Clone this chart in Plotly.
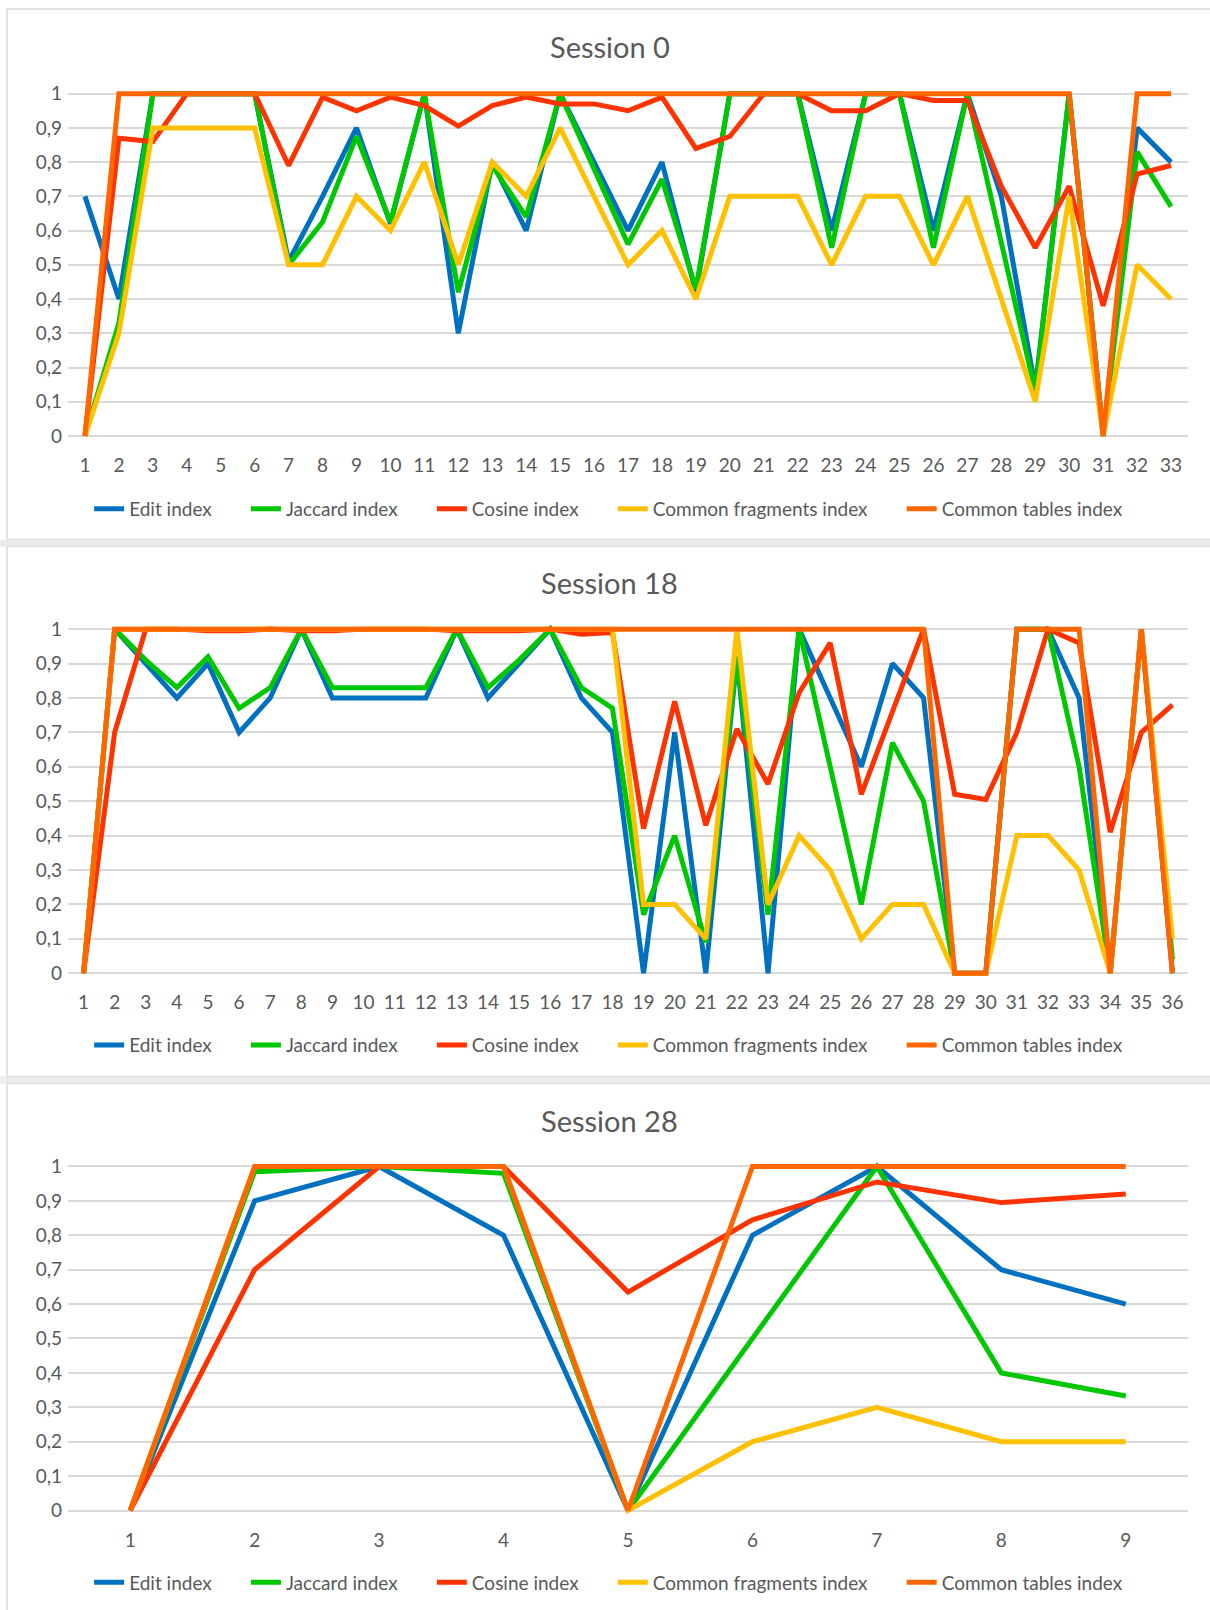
import plotly.graph_objects as go

series_names = ["Edit index", "Jaccard index", "Cosine index", "Common fragments index", "Common tables index"]
series_colors = ["#0070C0", "#00C800", "#FF3300", "#FFC000", "#FF6600"]

s0_title = "Session 0"
s0_edit = [0.7, 0.4, 1, 1, 1, 1, 0.51, 0.7, 0.9, 0.62, 1, 0.3, 0.8, 0.6, 1, 0.8, 0.6, 0.8, 0.42, 1, 1, 1, 0.6, 1, 1, 0.6, 1, 0.7, 0.14, 1, 0, 0.9, 0.8]
s0_jacc = [0, 0.33, 1, 1, 1, 1, 0.5, 0.625, 0.875, 0.625, 1, 0.42, 0.79, 0.64, 1, 0.78, 0.56, 0.75, 0.43, 1, 1, 1, 0.55, 1, 1, 0.55, 1, 0.57, 0.13, 1, 0, 0.83, 0.67]
s0_cos = [0, 0.87, 0.86, 1, 1, 1, 0.79, 0.99, 0.95, 0.99, 0.965, 0.905, 0.965, 0.99, 0.97, 0.97, 0.95, 0.99, 0.84, 0.875, 1, 1, 0.95, 0.95, 1, 0.98, 0.98, 0.73, 0.55, 0.73, 0.38, 0.765, 0.79]
s0_frag = [0, 0.3, 0.9, 0.9, 0.9, 0.9, 0.5, 0.5, 0.7, 0.6, 0.8, 0.5, 0.8, 0.7, 0.9, 0.7, 0.5, 0.6, 0.4, 0.7, 0.7, 0.7, 0.5, 0.7, 0.7, 0.5, 0.7, 0.4, 0.1, 0.7, 0, 0.5, 0.4]
s0_tabl = [0, 1, 1, 1, 1, 1, 1, 1, 1, 1, 1, 1, 1, 1, 1, 1, 1, 1, 1, 1, 1, 1, 1, 1, 1, 1, 1, 1, 1, 1, 0, 1, 1]

s18_title = "Session 18"
s18_edit = [0, 1, 0.9, 0.8, 0.9, 0.7, 0.8, 1, 0.8, 0.8, 0.8, 0.8, 1, 0.8, 0.9, 1, 0.8, 0.7, 0, 0.7, 0, 0.92, 0, 1, 0.8, 0.6, 0.9, 0.8, 0, 0, 1, 1, 0.8, 0, 1, 0]
s18_jacc = [0, 1, 0.91, 0.83, 0.92, 0.77, 0.83, 1, 0.83, 0.83, 0.83, 0.83, 1, 0.83, 0.91, 1, 0.83, 0.77, 0.17, 0.4, 0.09, 0.92, 0.17, 1, 0.6, 0.2, 0.67, 0.5, 0, 0, 1, 1, 0.6, 0, 1, 0.04]
s18_cos = [0, 0.7, 1, 1, 0.995, 0.995, 1, 0.995, 0.995, 1, 1, 1, 0.995, 0.995, 0.995, 1, 0.985, 0.99, 0.42, 0.79, 0.43, 0.71, 0.55, 0.815, 0.96, 0.52, 0.76, 1, 0.52, 0.505, 0.7, 1, 0.96, 0.41, 0.7, 0.78]
s18_frag = [0, 1, 1, 1, 1, 1, 1, 1, 1, 1, 1, 1, 1, 1, 1, 1, 1, 1, 0.2, 0.2, 0.1, 1, 0.2, 0.4, 0.3, 0.1, 0.2, 0.2, 0, 0, 0.4, 0.4, 0.3, 0, 1, 0.1]
s18_tabl = [0, 1, 1, 1, 1, 1, 1, 1, 1, 1, 1, 1, 1, 1, 1, 1, 1, 1, 1, 1, 1, 1, 1, 1, 1, 1, 1, 1, 0, 0, 1, 1, 1, 0, 1, 0]

s28_title = "Session 28"
s28_edit = [0, 0.9, 1, 0.8, 0, 0.8, 1, 0.7, 0.6]
s28_jacc = [0, 0.985, 1, 0.98, 0, 0.5, 1, 0.4, 0.333]
s28_cos = [0, 0.7, 1, 1, 0.635, 0.845, 0.955, 0.895, 0.92]
s28_frag = [0, 1, 1, 1, 0, 0.2, 0.3, 0.2, 0.2]
s28_tabl = [0, 1, 1, 1, 0, 1, 1, 1, 1]

y_tickvals = [0, 0.1, 0.2, 0.3, 0.4, 0.5, 0.6, 0.7, 0.8, 0.9, 1]
y_ticktext = ["0", "0,1", "0,2", "0,3", "0,4", "0,5", "0,6", "0,7", "0,8", "0,9", "1"]

panels = [
    (s0_title, [s0_edit, s0_jacc, s0_cos, s0_frag, s0_tabl]),
    (s18_title, [s18_edit, s18_jacc, s18_cos, s18_frag, s18_tabl]),
    (s28_title, [s28_edit, s28_jacc, s28_cos, s28_frag, s28_tabl]),
]

W, H = 1210, 1610
def py(px):
    return 1 - px / H

plot_px = [(82.3, 436.2), (622.8, 978.5), (1165.2, 1520.8)]
title_px = [38.7, 579.8, 1122.5]
legend_px = [505.6, 1046.8, 1589.3]
box_px = [(1, 536.4), (543.5, 1078.5), (1085.6, 1618)]
band_px = [(536.4, 543.5), (1078.5, 1085.6)]
x_dom = [68 / W, 1188 / W]

FONT = "Lato, Carlito, Calibri, sans-serif"
GREY = "#595959"
PAD = "\u00a0" * 6

fig = go.Figure()
layout = dict(
    width=W, height=H, margin=dict(l=0, r=0, t=0, b=0),
    paper_bgcolor="white", plot_bgcolor="white",
    font=dict(family=FONT, color=GREY, size=19),
    annotations=[], shapes=[],
)

for i, (title, data) in enumerate(panels):
    n = len(data[0])
    xs = list(range(1, n + 1))
    ax = "" if i == 0 else str(i + 1)
    leg = "legend" if i == 0 else f"legend{i + 1}"
    for k, (name, color, vals) in enumerate(zip(series_names, series_colors, data)):
        label = name + (PAD if k < len(series_names) - 1 else "")
        fig.add_trace(go.Scatter(
            x=xs, y=vals, mode="lines", name=label,
            line=dict(color=color, width=5),
            xaxis="x" + ax, yaxis="y" + ax, legend=leg,
        ))
    top, bot = plot_px[i]
    layout["xaxis" + ax] = dict(
        domain=x_dom, anchor="y" + ax, range=[0.5, n + 0.5],
        tickmode="array", tickvals=xs, ticktext=[str(v) for v in xs],
        showgrid=False, zeroline=False, showline=False, ticks="",
        tickfont=dict(size=19, color=GREY, family=FONT), ticklabelstandoff=12,
        fixedrange=True,
    )
    layout["yaxis" + ax] = dict(
        domain=[py(bot), py(top)], anchor="x" + ax, range=[-0.012, 1.012],
        tickmode="array", tickvals=y_tickvals, ticktext=y_ticktext,
        showgrid=True, gridcolor="#D9D9D9", gridwidth=1.5, zeroline=False,
        showline=False, ticks="", tickfont=dict(size=19, color=GREY, family=FONT),
        ticklabelstandoff=5, fixedrange=True,
    )
    layout[leg] = dict(
        orientation="h", x=0.503, xanchor="center", y=py(legend_px[i]), yanchor="middle",
        font=dict(size=19, color=GREY, family=FONT), bgcolor="rgba(0,0,0,0)",
        tracegroupgap=0,
    )
    layout["annotations"].append(dict(
        text=title, x=0.504, y=py(title_px[i]), xref="paper", yref="paper",
        xanchor="center", yanchor="middle", showarrow=False,
        font=dict(size=29, color=GREY, family=FONT),
    ))
    b0, b1 = box_px[i]
    layout["shapes"].append(dict(
        type="rect", xref="paper", yref="paper", x0=7 / W, x1=1.02, y0=py(b1), y1=py(b0),
        line=dict(color="#D9D9D9", width=1.5), fillcolor="rgba(0,0,0,0)", layer="below",
    ))

for (a, b) in band_px:
    layout["shapes"].append(dict(
        type="rect", xref="paper", yref="paper", x0=0, x1=1, y0=py(b), y1=py(a),
        line=dict(width=0), fillcolor="#EBEBEB", layer="below",
    ))

fig.update_layout(**layout)
fig.write_html(
    "out.html",
    config={"displayModeBar": False},
    post_script="document.body.style.margin='0';document.body.style.overflow='hidden';",
)
